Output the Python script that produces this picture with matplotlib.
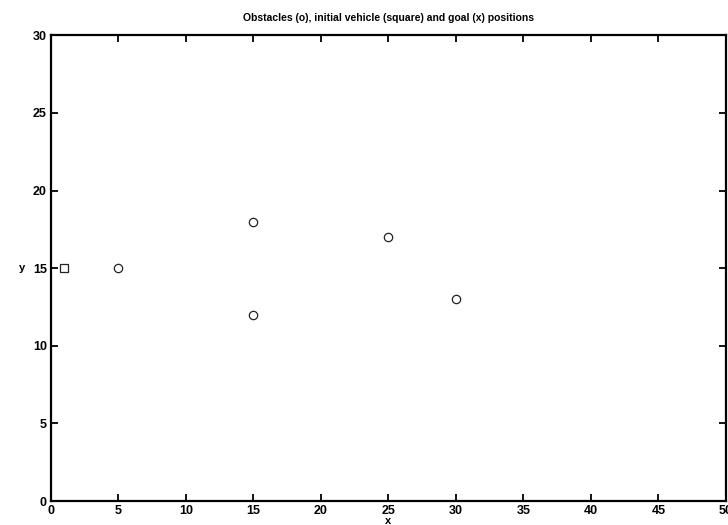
import matplotlib
matplotlib.use("Agg")
import matplotlib.pyplot as plt

# Obstacle positions
obstacle_x = [5, 15, 15, 25, 30]
obstacle_y = [15, 18, 12, 17, 13]

# Initial vehicle position
vehicle_x = [1]
vehicle_y = [15]

x_ticks = [0, 5, 10, 15, 20, 25, 30, 35, 40, 45, 50]
y_ticks = [0, 5, 10, 15, 20, 25, 30]

plt.rcParams['font.family'] = ['Liberation Sans', 'DejaVu Sans']

fig = plt.figure(figsize=(7.28, 5.25), dpi=100)
ax = fig.add_axes([0.070, 0.0457, 0.927, 0.887])

ax.plot(obstacle_x, obstacle_y, linestyle='none', marker='o', markersize=6,
        markerfacecolor='none', markeredgecolor='#222222', markeredgewidth=0.9)
ax.plot(vehicle_x, vehicle_y, linestyle='none', marker='s', markersize=6,
        markerfacecolor='none', markeredgecolor='#222222', markeredgewidth=0.9)

ax.set_xlim(0, 50)
ax.set_ylim(0, 30)
ax.set_xticks(x_ticks)
ax.set_yticks(y_ticks)
ax.tick_params(direction='in', length=5, width=1.3, top=True, right=True,
               labelsize=9, pad=3)
for lab in ax.get_xticklabels() + ax.get_yticklabels():
    lab.set_fontweight('bold')
for sp in ax.spines.values():
    sp.set_linewidth(1.6)

ax.set_title('Obstacles (o), initial vehicle (square) and goal (x) positions',
             fontsize=7.5, fontweight='bold', pad=10)
ax.set_xlabel('x', fontsize=8, fontweight='bold', labelpad=-1)
ax.set_ylabel('y', fontsize=8, fontweight='bold', rotation=0, labelpad=8,
              va='center')

fig.savefig('out.png', dpi=100, facecolor='white')
